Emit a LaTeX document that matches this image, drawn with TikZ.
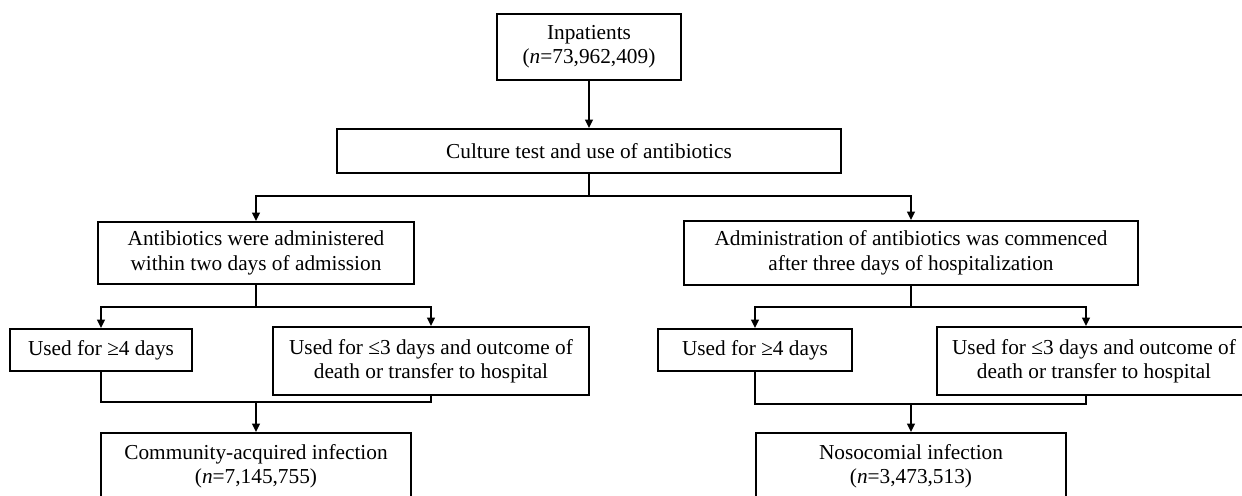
\documentclass[tikz,border=0pt]{standalone}
\usepackage{fontspec}
\setmainfont{Liberation Serif}
\usetikzlibrary{arrows.meta, positioning}

\begin{document}
\begin{tikzpicture}[x=0.5pt, y=-0.5pt, line width=1pt,
		every node/.style={font=\fontsize{10.65}{12.2}\selectfont},
		flowbox/.style={draw, line width=1pt, align=center, inner sep=0pt},
		arr/.style={-{Triangle[length=4.2pt,width=3.8pt]}}]
		\clip (0,0) rectangle (1242,496);
		\fill[white] (0,0) rectangle (1242,496);
		% boxes
		\node[flowbox, minimum width=92pt, minimum height=33pt] (inp) at (589,47) {Inpatients\\(\textit{n}=73,962,409)};
		\node[flowbox, minimum width=252pt, minimum height=22pt] (cult) at (589,151) {Culture test and use of antibiotics};
		\node[flowbox, minimum width=158pt, minimum height=31pt] (early) at (256,253) {Antibiotics were administered\\within two days of admission};
		\node[flowbox, minimum width=227pt, minimum height=32pt] (late) at (911,253) {Administration of antibiotics was commenced\\after three days of hospitalization};
		\node[flowbox, minimum width=91pt, minimum height=21pt] (early4) at (101,350) {Used for ≥4 days};
		\node[flowbox, minimum width=158pt, minimum height=34pt] (early3) at (431,361) {Used for ≤3 days and outcome of\\death or transfer to hospital};
		\node[flowbox, minimum width=97pt, minimum height=21pt] (late4) at (755,350) {Used for ≥4 days};
		\node[flowbox, minimum width=157pt, minimum height=34pt] (late3) at (1094,361) {Used for ≤3 days and outcome of\\death or transfer to hospital};
		\node[flowbox, minimum width=155pt, minimum height=33pt] (comm) at (256,466) {Community-acquired infection\\(\textit{n}=7,145,755)};
		\node[flowbox, minimum width=155pt, minimum height=33pt] (noso) at (911,466) {Nosocomial infection\\(\textit{n}=3,473,513)};
		% connectors
		\coordinate (split1) at (589,196);
		\coordinate (split2) at (256,307);
		\coordinate (split3) at (911,307);
		\coordinate (join1) at (256,402);
		\coordinate (join2) at (911,404);
		\draw[arr] (inp) -- (cult);
		\draw (cult.south) -- (split1);
		\draw[arr] (split1) -| (early.north);
		\draw[arr] (split1) -| (late.north);
		\draw (early.south) -- (split2);
		\draw[arr] (split2) -| (early4.north);
		\draw[arr] (split2) -| (early3.north);
		\draw (early4.south) |- (join1);
		\draw (early3.south) |- (join1);
		\draw[arr] (join1) -- (comm.north);
		\draw (late.south) -- (split3);
		\draw[arr] (split3) -| (late4.north);
		\draw[arr] (split3) -| ([xshift=-4pt]late3.north);
		\draw (late4.south) |- (join2);
		\draw ([xshift=-4pt]late3.south) |- (join2);
		\draw[arr] (join2) -- (noso.north);
\end{tikzpicture}
\end{document}
